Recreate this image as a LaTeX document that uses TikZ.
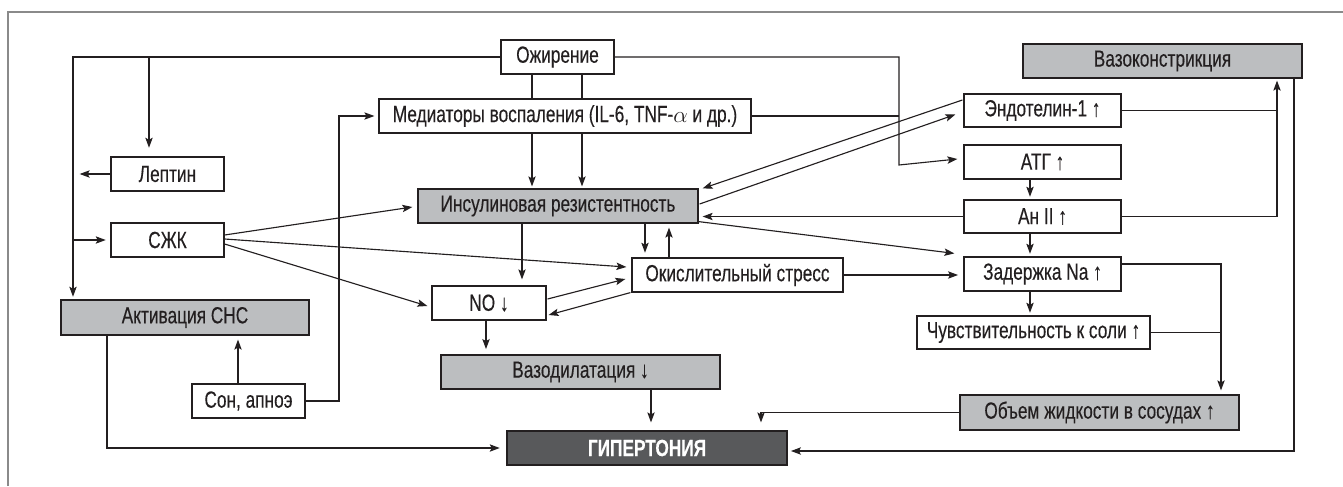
\documentclass[tikz,border=0pt]{standalone}
\usepackage{fontspec}
\setmainfont{Liberation Sans}[FakeStretch=0.74,FakeBold=0.25]
\usetikzlibrary{calc,arrows.meta}
\definecolor{ink}{HTML}{231F20}
\definecolor{lgray}{HTML}{BCBEC0}
\definecolor{dgray}{HTML}{58595B}
\definecolor{frame}{HTML}{8A8A8A}
\newcommand\bx[7]{\node[#2,minimum width={(#5-#3)*0.75pt},minimum height={(#6-#4)*0.75pt}] (#1) at ({(#3+#5)/2},{(#4+#6)/2}) {#7};}
\begin{document}
\begin{tikzpicture}[x=0.75pt,y=-0.75pt,
  box/.style={draw=ink,line width=0.9pt,fill=white,inner sep=0pt,text=ink,
    font=\fontsize{17.5}{20}\selectfont},
  gbox/.style={box,fill=lgray},
  dbox/.style={box,fill=dgray,text=white,font=\fontsize{17.5}{20}\selectfont\bfseries},
  con/.style={draw=ink,line width=0.85pt},
  arr/.style={con,-{Stealth[length=7.5pt,width=5.5pt,inset=1.5pt]}}]
\useasboundingbox (0,0) rectangle (1343,486);
\draw[frame,line width=1.2pt] (8,486) -- (8,12) -- (1343,12);

% nodes
\bx{ob}{box}{501}{40}{614}{74}{Ожирение}
\bx{med}{box}{379}{99}{751}{133}{Медиаторы воспаления (IL-6, TNF-$\alpha$ и др.)}
\bx{lep}{box}{111}{157}{224}{191}{Лептин}
\bx{szk}{box}{111}{223}{224}{257}{СЖК}
\bx{ins}{gbox}{418}{189}{698}{223}{Инсулиновая резистентность}
\bx{sns}{gbox}{61}{300}{309}{335}{Активация СНС}
\bx{son}{box}{192}{384}{305}{418}{Сон, апноэ}
\bx{no}{box}{432}{286}{546}{320}{NO ↓}
\bx{ox}{box}{632}{258}{843}{292}{Окислительный стресс}
\bx{vd}{gbox}{441}{355}{720}{389}{Вазодилатация ↓}
\bx{hyp}{dbox}{507}{431}{787}{465}{ГИПЕРТОНИЯ}
\bx{vk}{gbox}{1023}{44}{1302}{78}{Вазоконстрикция}
\bx{end}{box}{964}{94}{1121}{127}{Эндотелин-1 ↑}
\bx{atg}{box}{964}{145}{1121}{179}{АТГ ↑}
\bx{an}{box}{964}{200}{1121}{233}{Ан II ↑}
\bx{na}{box}{964}{257}{1121}{291}{Задержка Na ↑}
\bx{salt}{box}{917}{316}{1150}{349}{Чувствительность к соли ↑}
\bx{vol}{gbox}{960}{395}{1239}{430}{Объем жидкости в сосудах ↑}

% coordinates for bends
\coordinate (cTL) at (73,57);
\coordinate (cL) at (149,57);
\coordinate (cR) at (899,57);
\coordinate (cR2) at (899,165);
\coordinate (cS) at (339,116);
\coordinate (cB) at (107,448);
\coordinate (cV) at (1277,111);
\coordinate (cH) at (1294,451);
\coordinate (cN) at (1221,264);
\coordinate (cO) at (761,411);

% left side from Ожирение
\draw[arr,shorten >=2pt] (ob.west) -| (cTL |- sns.north);
\draw[arr,shorten >=6.5pt] (cL) -- (cL |- lep.north);
\draw[arr,shorten >=5pt] (lep.west) -- (lep.west -| cTL);
\draw[arr,shorten >=3.5pt] (cTL |- szk.west) -- (szk.west);

% Ожирение down through Медиаторы
\draw[con] (ob.south -| 532,0) -- (med.north -| 532,0);
\draw[con] (ob.south -| 582,0) -- (med.north -| 582,0);
\draw[arr,shorten >=1.5pt] (med.south -| 532,0) -- (ins.north -| 532,0);
\draw[arr,shorten >=1.5pt] (med.south -| 582,0) -- (ins.north -| 582,0);

% Ожирение right -> АТГ, Медиаторы join
\draw[arr] (ob.east) -- (cR) -- (cR2) -- ($(atg.west)+(-6,-3)$);
\draw[con] (med.east) -- (med.east -| cR);

% Сон
\draw[arr,shorten >=3pt] (son.east) -| (cS) -- (med.west);
\draw[arr,shorten >=3pt] (son.north -| 238,0) -- (sns.south -| 238,0);
\draw[arr,shorten >=5pt] (sns.south -| cB) |- (hyp.west);

% СЖК outputs
\draw[arr] ($(szk.east)+(0,-5)$) -- ($(ins.west)+(-5,1)$);
\draw[arr] ($(szk.east)+(0,-1)$) -- ($(ox.west)+(-5,-8)$);
\draw[arr] ($(szk.east)+(0,4)$) -- ($(no.west)+(-4,3)$);

% Инсулиновая resistance links
\draw[arr,shorten >=4.5pt] (ins.south -| 522,0) -- (no.north -| 522,0);
\draw[arr,shorten >=3.5pt] (ins.south -| 645,0) -- (ox.north -| 645,0);
\draw[arr,shorten >=3pt] (ox.north -| 669,0) -- (ins.south -| 669,0);
\draw[arr] ($(end.west)+(-1,-10.5)$) -- ($(ins.north east)+(4,0)$);
\draw[arr] ($(ins.east)+(1,-2)$) -- ($(end.west)+(-8,4)$);
\draw[arr,shorten >=3pt] (an.west) -- (an.west -| ins.east);
\draw[arr] ($(ins.south east)+(0,-2)$) -- ($(na.north west)+(-9,-3)$);

% NO <-> oxidative stress
\draw[arr] ($(no.east)+(1,-4)$) -- ($(ox.west)+(-6,4)$);
\draw[arr] ($(ox.south west)+(-1,0)$) -- ($(no.east)+(2,12)$);
\draw[arr,shorten >=4pt] (ox.east) -- (ox.east -| na.west);

% down chain
\draw[arr,shorten >=4pt] (no.south -| 486,0) -- (vd.north -| 486,0);
\draw[arr,shorten >=6pt] (vd.south -| 651,0) -- (hyp.north -| 651,0);

% right column
\draw[arr,shorten >=2pt] (atg.south -| 1030,0) -- (an.north -| 1030,0);
\draw[arr,shorten >=2pt] (an.south -| 1030,0) -- (na.north -| 1030,0);
\draw[arr,shorten >=2pt] (na.south -| 1030,0) -- (salt.north -| 1030,0);
\draw[arr,shorten >=1.5pt] (end.east) -| (cV |- vk.south);
\draw[con] (an.east) -| (cV);
\draw[arr,shorten >=2.5pt] (vk.south -| cH) |- ($(hyp.east)+(0,3)$);
\draw[arr,shorten >=3pt] ($(na.east)+(0,-10)$) -| (cN |- vol.north);
\draw[con] (salt.east) -- (salt.east -| cN);
\draw[arr,shorten >=6pt] (vol.west) -| (cO |- hyp.north);
\end{tikzpicture}
\end{document}
